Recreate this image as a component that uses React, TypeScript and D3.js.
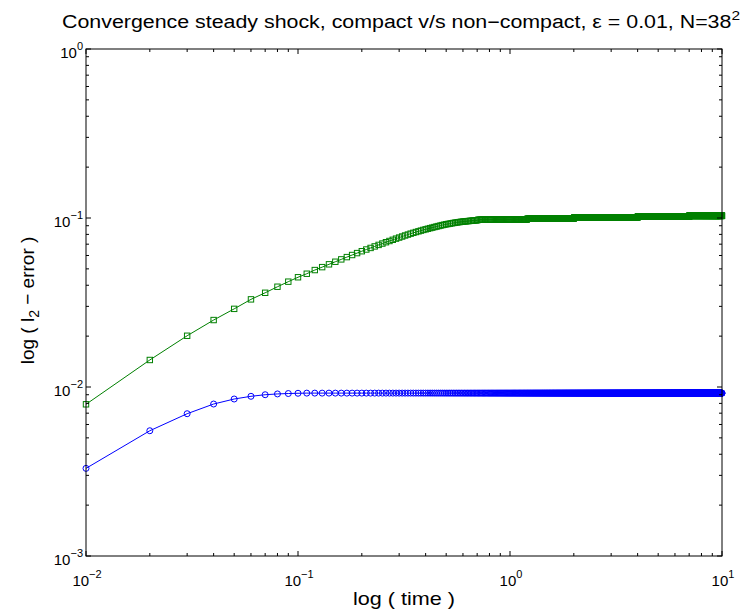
import React from "react";
import * as d3 from "d3";

// solver output every 0.01 time units, up to t = 10
const timeStep = 0.01;
const stepCount = 1000;

const xDecades = [0.01, 0.1, 1, 10];
const xExponents = ["-2", "-1", "0", "1"];
const yDecades = [0.001, 0.01, 0.1, 1];
const yExponents = ["-3", "-2", "-1", "0"];

// non-compact scheme (green squares), t = 0.01 .. 0.70
const nonCompactHead = [
  0.0079, 0.01445, 0.0201, 0.0249, 0.029, 0.033, 0.0361, 0.0392, 0.042, 0.0446,
  0.0468, 0.0492, 0.0512, 0.0532, 0.0551, 0.0569, 0.0587, 0.0604, 0.062, 0.0636,
  0.0651, 0.0665, 0.0679, 0.0693, 0.0706, 0.0719, 0.0731, 0.0743, 0.0755, 0.0766,
  0.0777, 0.0788, 0.0798, 0.0808, 0.0817, 0.0826, 0.0834, 0.0842, 0.085, 0.0857,
  0.0864, 0.0871, 0.0877, 0.0884, 0.089, 0.0896, 0.0902, 0.0908, 0.0913, 0.0918,
  0.0922, 0.0926, 0.093, 0.0934, 0.0938, 0.0941, 0.0944, 0.0947, 0.095, 0.0952,
  0.0954, 0.0956, 0.0958, 0.096, 0.0962, 0.0964, 0.0965, 0.0967, 0.0968, 0.0969,
];
// past t = 0.7 the squares merge into a band, read as levels
const nonCompactTail = [
  { until: 1.2, value: 0.0978 },
  { until: 2.0, value: 0.0992 },
  { until: 4.0, value: 0.101 },
  { until: 7.0, value: 0.1022 },
  { until: 10, value: 0.103 },
];

// compact scheme (blue circles), t = 0.01 .. 0.10
const compactHead = [
  0.0033, 0.00551, 0.00695, 0.00793, 0.00849, 0.00881, 0.009, 0.0091, 0.00915, 0.00918,
];
const compactTail = [{ until: 10, value: 0.0092 }];

const left = 86;
const right = 722;
const top = 49;
const bottom = 556;
const font = "'Liberation Sans', Arial, Helvetica, sans-serif";

function buildSeries(head, tail) {
  const pts = [];
  for (let k = 1; k <= stepCount; k++) {
    const t = +(k * timeStep).toFixed(2);
    let v;
    if (k <= head.length) v = head[k - 1];
    else v = tail.find((s) => t <= s.until + 1e-9).value;
    pts.push({ t, v });
  }
  return pts;
}

export default function App() {
  const x = d3.scaleLog().domain([0.01, 10]).range([left, right]);
  const y = d3.scaleLog().domain([0.001, 1]).range([bottom, top]);

  const nonCompact = buildSeries(nonCompactHead, nonCompactTail);
  const compact = buildSeries(compactHead, compactTail);

  const line = d3
    .line()
    .x((d) => x(d.t))
    .y((d) => y(d.v));

  const minor = (decades) => {
    const out = [];
    decades.slice(0, -1).forEach((d) => {
      for (let m = 2; m <= 9; m++) out.push(d * m);
    });
    return out;
  };
  const xMinor = minor(xDecades);
  const yMinor = minor(yDecades);
  const major = 5;
  const small = 3;

  const green = "#008000";
  const blue = "#0000ff";

  return (
    <svg
      width={752}
      height={611}
      style={{ position: "absolute", left: 0, top: 0, background: "#fff" }}
      fontFamily={font}
    >
      <rect x={0} y={0} width={752} height={611} fill="#fff" />

      {/* series */}
      <path d={line(nonCompact)} fill="none" stroke={green} strokeWidth={1} />
      {nonCompact.map((d, i) => (
        <rect
          key={"g" + i}
          x={x(d.t) - 2.7}
          y={y(d.v) - 2.7}
          width={5.4}
          height={5.4}
          fill="none"
          stroke={green}
          strokeWidth={1}
        />
      ))}
      <path d={line(compact)} fill="none" stroke={blue} strokeWidth={1} />
      {compact.map((d, i) => (
        <circle
          key={"b" + i}
          cx={x(d.t)}
          cy={y(d.v)}
          r={3}
          fill="none"
          stroke={blue}
          strokeWidth={1}
        />
      ))}

      {/* axes box and inward ticks */}
      <rect
        x={left}
        y={top}
        width={right - left}
        height={bottom - top}
        fill="none"
        stroke="#000"
        strokeWidth={1}
      />
      {xDecades.map((d) => (
        <g key={"xt" + d}>
          <line x1={x(d)} x2={x(d)} y1={bottom} y2={bottom - major} stroke="#000" />
          <line x1={x(d)} x2={x(d)} y1={top} y2={top + major} stroke="#000" />
        </g>
      ))}
      {xMinor.map((d) => (
        <g key={"xm" + d}>
          <line x1={x(d)} x2={x(d)} y1={bottom} y2={bottom - small} stroke="#000" />
          <line x1={x(d)} x2={x(d)} y1={top} y2={top + small} stroke="#000" />
        </g>
      ))}
      {yDecades.map((d) => (
        <g key={"yt" + d}>
          <line x1={left} x2={left + major} y1={y(d)} y2={y(d)} stroke="#000" />
          <line x1={right} x2={right - major} y1={y(d)} y2={y(d)} stroke="#000" />
        </g>
      ))}
      {yMinor.map((d) => (
        <g key={"ym" + d}>
          <line x1={left} x2={left + small} y1={y(d)} y2={y(d)} stroke="#000" />
          <line x1={right} x2={right - small} y1={y(d)} y2={y(d)} stroke="#000" />
        </g>
      ))}

      {/* tick labels */}
      {xDecades.map((d, i) => (
        <text
          key={"xl" + d}
          x={x(d) + 1}
          y={586}
          textAnchor="middle"
          fontSize={15}
          fill="#000"
        >
          10
          <tspan dy={-8} fontSize={11}>
            {xExponents[i].replace("-", "\u2212")}
          </tspan>
        </text>
      ))}
      {yDecades.map((d, i) => (
        <text
          key={"yl" + d}
          x={83}
          y={y(d) + 9}
          textAnchor="end"
          fontSize={15}
          fill="#000"
        >
          10
          <tspan dy={-8} fontSize={11}>
            {yExponents[i].replace("-", "\u2212")}
          </tspan>
        </text>
      ))}

      {/* titles */}
      <text
        x={401}
        y={28}
        textAnchor="middle"
        fontSize={18}
        textLength={678}
        lengthAdjust="spacingAndGlyphs"
        fill="#000"
      >
        Convergence steady shock, compact v/s non{"\u2212"}compact, {"\u03b5"} = 0.01, N=38
        <tspan dy={-8} fontSize={13}>
          2
        </tspan>
      </text>
      <text
        x={404}
        y={605}
        textAnchor="middle"
        fontSize={19}
        textLength={102}
        lengthAdjust="spacingAndGlyphs"
        fill="#000"
      >
        log ( time )
      </text>
      <text
        transform={`translate(34,${(top + bottom) / 2 - 2}) rotate(-90)`}
        textAnchor="middle"
        fontSize={19}
        fill="#000"
      >
        log ( l
        <tspan dy={5} fontSize={14}>
          2
        </tspan>
        <tspan dy={-5}> {"\u2212"} error )</tspan>
      </text>
    </svg>
  );
}
